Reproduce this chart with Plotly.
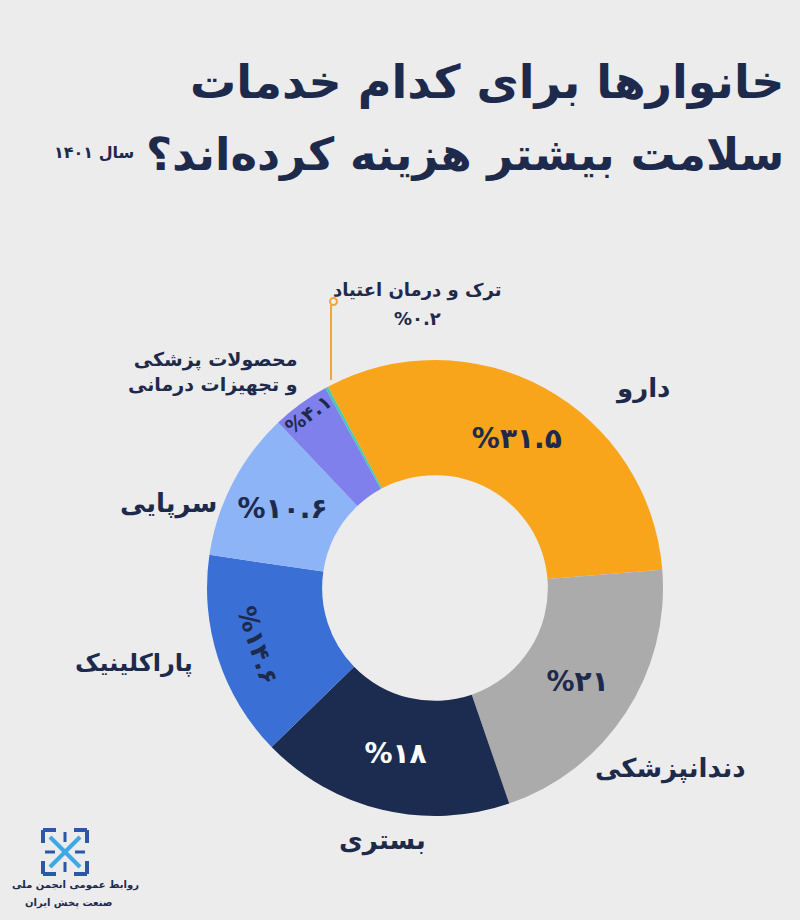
import plotly.graph_objects as go

# ---- data ----
categories = ["دارو", "دندانپزشکی", "بستری", "پاراکلینیک", "سرپایی",
              "محصولات پزشکی<br>و تجهیزات درمانی", "ترک و درمان اعتیاد"]
values = [31.5, 21.0, 18.0, 14.6, 10.6, 4.1, 0.2]
pct_labels = ["%۳۱.۵", "%۲۱", "%۱۸", "%۱۴.۶", "%۱۰.۶", "%۴.۱", "%۰.۲"]
colors = ["#F9A51B", "#ABABAB", "#1C2B50", "#3A6FD6", "#8DB4F7", "#8080EC", "#46C9B0"]

title_lines = ["خانوارها برای کدام خدمات", "سلامت بیشتر هزینه کرده‌اند؟"]
year_label = "سال ۱۴۰۱"
org_lines = ["روابط عمومی انجمن ملی", "صنعت پخش ایران"]

NAVY = "#1E2A4B"
FONT = "DejaVu Sans"
W, H = 800, 920

# donut placement (pixels)
cx, cy, R = 435, 588, 228
dom_x = [(cx - R) / W, (cx + R) / W]
dom_y = [(H - cy - R) / H, (H - cy + R) / H]

horiz_idx = {0, 1, 2, 4}
tang_idx = {3, 5}

text_main = [pct_labels[i] if i in horiz_idx else "" for i in range(len(values))]
text_tang = [pct_labels[i] if i in tang_idx else "" for i in range(len(values))]
text_colors = ["white" if i == 2 else NAVY for i in range(len(values))]

fig = go.Figure()
fig.add_trace(go.Pie(
    values=values, labels=[f"c{i}" for i in range(len(values))],
    text=text_main, texttemplate="%{text}", textposition="inside",
    insidetextorientation="horizontal",
    textfont=dict(family=FONT, size=28, color=text_colors, weight=700),
    marker=dict(colors=colors, line=dict(width=0)),
    hole=0.495, sort=False, direction="clockwise", rotation=-28,
    domain=dict(x=dom_x, y=dom_y), showlegend=False, hoverinfo="skip",
))
fig.add_trace(go.Pie(
    values=values, labels=[f"c{i}" for i in range(len(values))],
    text=text_tang, texttemplate="%{text}", textposition="inside",
    insidetextorientation="tangential",
    textfont=dict(family=FONT, size=25, color=NAVY, weight=700),
    marker=dict(colors=["rgba(0,0,0,0)"] * len(values), line=dict(width=0)),
    hole=0.495, sort=False, direction="clockwise", rotation=-28,
    domain=dict(x=dom_x, y=dom_y), showlegend=False, hoverinfo="skip",
))

annotations = []
def add_text(txt, x, y, size, xanchor="center", color=NAVY, align="center"):
    annotations.append(dict(text=txt, x=x / W, y=1 - y / H, xref="paper", yref="paper",
                            xanchor=xanchor, yanchor="middle", showarrow=False, align=align,
                            font=dict(family=FONT, size=size, color=color, weight=700)))

# title
add_text(title_lines[0], 786, 82, 46, xanchor="right")
add_text(title_lines[1], 786, 155, 45, xanchor="right")
add_text(year_label, 94, 153, 16)

# category labels
label_pos = [(642, 388), (670, 768), (382, 840), (134, 663), (168, 503), (300, 372), (417, 290)]
label_size = [26, 26, 26, 24, 26, 19, 18]
for i, (x, y) in enumerate(label_pos):
    if i == 5:
        add_text(categories[i], x, y, label_size[i], xanchor="right", align="right")
    elif i == 6:
        add_text(categories[i], x, y, label_size[i])
        add_text(pct_labels[i], x, y + 28, label_size[i])
    else:
        add_text(categories[i], x, y, label_size[i])

# organisation
add_text(org_lines[0], 75, 885, 10)
add_text(org_lines[1], 68, 903, 10)

shapes = []
def px(x, y):
    return x / W, 1 - y / H
# leader line to smallest slice
x0, y0 = px(331, 380); x1, y1 = px(331, 305)
shapes.append(dict(type="line", xref="paper", yref="paper", x0=x0, y0=y0, x1=x1, y1=y1,
                   line=dict(color="#F0A640", width=2)))
a, b = px(330, 298); c, d = px(337, 305)
shapes.append(dict(type="circle", xref="paper", yref="paper", x0=a, y0=d, x1=c, y1=b,
                   line=dict(color="#F0A640", width=2), fillcolor="#F3EEE6"))

# simple logo
LB = "#2B57A8"; LC = "#3DA8E6"
lx0, ly0, lx1, ly1 = 43, 830, 87, 874
def seg(xa, ya, xb, yb, col, w):
    p, q = px(xa, ya); r, s = px(xb, yb)
    shapes.append(dict(type="line", xref="paper", yref="paper", x0=p, y0=q, x1=r, y1=s,
                       line=dict(color=col, width=w)))
k = 13
for (xc, yc, sx, sy) in [(lx0, ly0, 1, 1), (lx1, ly0, -1, 1), (lx0, ly1, 1, -1), (lx1, ly1, -1, -1)]:
    seg(xc, yc, xc + sx * k, yc, LB, 4)
    seg(xc, yc, xc, yc + sy * k, LB, 4)
seg(50, 837, 80, 867, LC, 4)
seg(80, 837, 50, 867, LC, 4)
seg(65, 832, 65, 842, LB, 3)
seg(65, 862, 65, 872, LB, 3)
seg(45, 852, 55, 852, LB, 3)
seg(75, 852, 85, 852, LB, 3)

fig.update_layout(
    width=W, height=H, margin=dict(l=0, r=0, t=0, b=0),
    paper_bgcolor="#ECECEC", plot_bgcolor="#ECECEC",
    annotations=annotations, shapes=shapes,
)
fig.write_html("out.html")
